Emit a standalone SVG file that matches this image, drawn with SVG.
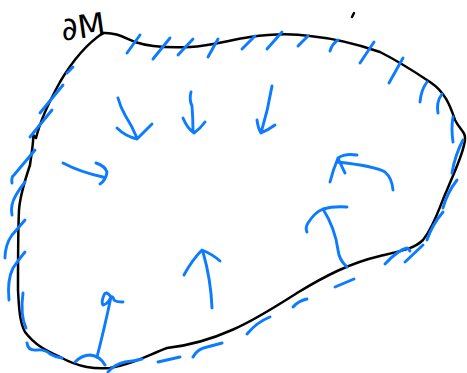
<svg xmlns="http://www.w3.org/2000/svg" width="467" height="373" viewBox="0 0 467 373">
<style>
.k{fill:none;stroke:#000;stroke-width:2.5;stroke-linecap:round;stroke-linejoin:round}
.b{fill:none;stroke:#0b7bff;stroke-width:2.9;stroke-linecap:round;stroke-linejoin:round}
.t{font-family:"DejaVu Sans","Liberation Sans",sans-serif;font-size:32px;fill:#000}
</style>
<rect width="467" height="373" fill="#fff"/>
<path class="k" d="M103,33 C115,32 125,38 135,42 C150,47 170,48 190,47 C210,46 230,40 250,37 C270,34 290,33 310,36 C340,39 360,45 380,52 C400,62 415,72 430,82 C445,92 450,105 455,120 C460,130 466,132 465,140 C463,155 455,170 447,190 C440,205 435,225 423,240 C415,248 405,250 380,256 C350,263 325,276 297,293 C275,307 255,320 232,330 C205,342 185,346 167,348 C150,354 135,364 110,368 C95,369 80,368 60,357 C45,350 35,345 25,332 C20,323 19,310 18,290 C18,260 18,230 19,210 C20,195 25,180 30,165 C32,150 34,140 33,135 L36,138 C40,122 50,100 60,82 C70,65 85,45 103,33 Z"/>
<path class="k" d="M352,17 L354,13"/>
<text class="t" x="61" y="38" transform="rotate(-8 82 26)">∂M</text>
<g id="hatches">
<path class="b" d="M127,53 L140,35 M153,59 L170,38 M178,55 L193,39 M208,57 L218,39"/>
<path class="b" d="M242,49 L255,36 M267,49 L282,32 M298,46 L308,36 M330,51 Q332,44 338,40 M360,63 L374,42 M389,83 L403,58 M420,102 Q421,90 427,82 M438,113 Q436,102 442,94 M453,142 Q451,128 453,117 M452,173 Q455,155 463,140 M443,208 Q447,193 457,180"/>
<path class="b" d="M427,240 Q432,225 443,212 M405,262 L423,245 M385,264 Q398,250 407,248 Q409,249 410,251 M335,287 L354,279 M293,307 Q298,301 307,299 M247,334 Q257,322 270,317"/>
<path class="b" d="M67,73 L73,67 M40,113 L63,85 M30,137 L52,110 M12,183 Q11,177 14,175 Q25,162 35,150 M12,215 Q10,205 16,195 Q20,188 25,182 M5,258 Q5,245 12,235 Q20,226 25,220 M9,300 Q7,280 13,268 Q20,258 25,252 M23,293 Q20,315 26,328"/>
<path class="b" d="M27,343 Q28,351 37,350 Q45,349 50,354 Q55,357 62,358 M75,362 Q82,355 90,355 Q100,356 105,365 M108,372 Q115,364 125,362 Q135,361 142,359 M158,362 L180,357 M193,357 Q197,349 207,347 Q215,345 222,343"/>
</g>
<g id="arrows">
<path class="b" d="M118,98 Q120,106 125,115 Q132,126 137,138 M117,128 Q125,136 137,139 Q145,131 152,124"/>
<path class="b" d="M191,92 Q189,100 192,106 Q193,118 193,131 M183,118 Q187,128 194,133 Q200,129 205,122"/>
<path class="b" d="M272,86 Q268,110 261,133 M257,120 Q258,128 261,133 Q268,130 275,125"/>
<path class="b" d="M63,163 Q80,172 103,177 M96,163 Q105,166 107,172 Q106,180 100,184"/>
<path class="b" d="M393,190 Q392,178 385,172 Q375,166 337,162 M330,182 Q333,170 338,158 Q341,165 345,173 M338,158 Q345,153 357,155"/>
<path class="b" d="M347,267 Q339,260 338,250 Q335,228 323,209 M307,232 Q305,228 308,223 Q315,212 323,209 Q333,206 347,207"/>
<path class="b" d="M212,308 Q211,280 203,252 M184,275 Q192,260 202,250 Q212,254 220,261"/>
<path class="b" d="M97,357 Q104,330 111,297 M111,297 Q106,290 104,295 Q101,302 103,305 Q108,304 111,297 Q113,296 114,300 Q116,302 123,302"/>
</g>
</svg>
